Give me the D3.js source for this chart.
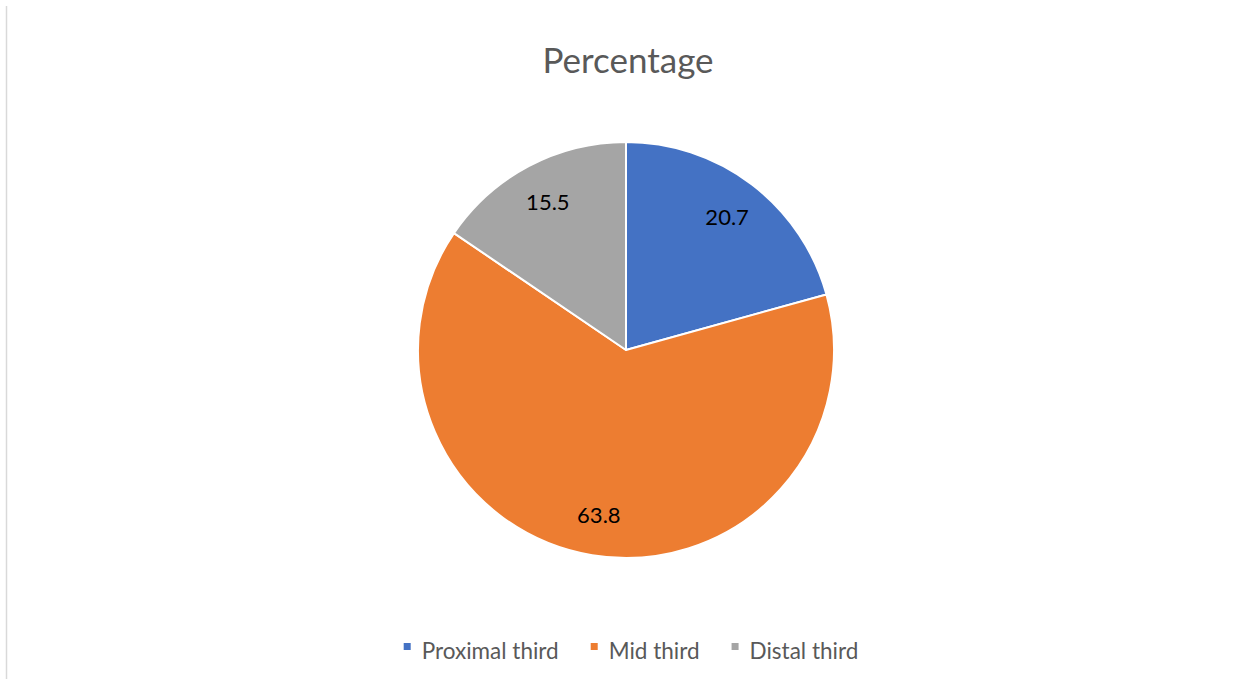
<!DOCTYPE html>
<html><head><meta charset="utf-8">
<script src="https://cdn.jsdelivr.net/npm/d3@7"></script>
<style>body{margin:0;background:#fff}svg{display:block}</style>
</head><body>
<script>
const categories = ["Proximal third", "Mid third", "Distal third"];
const values = [20.7, 63.8, 15.5];
const colors = ["#4472C4", "#ED7D31", "#A5A5A5"];
const title = "Percentage";

const W = 1244, H = 679;
const FONT = "Lato, 'Open Sans', sans-serif";
const svg = d3.select("body").append("svg").attr("width", W).attr("height", H);

svg.append("line").attr("x1", 6.5).attr("x2", 6.5).attr("y1", 6).attr("y2", H)
  .attr("stroke", "#d9d9d9").attr("stroke-width", 1.5);

svg.append("text").attr("x", 628).attr("y", 73).attr("text-anchor", "middle")
  .attr("font-family", FONT).attr("font-size", 35).attr("fill", "#595959").text(title);

const cx = 626, cy = 350, r = 208;
const pie = d3.pie().sort(null).value(d => d);
const arcs = pie(values);
const arc = d3.arc().innerRadius(0).outerRadius(r);
const g = svg.append("g").attr("transform", `translate(${cx},${cy})`);
g.selectAll("path").data(arcs).join("path")
  .attr("d", arc).attr("fill", (d, i) => colors[i])
  .attr("stroke", "#fff").attr("stroke-width", 2).attr("stroke-linejoin", "round");

const labelArc = d3.arc().innerRadius(167).outerRadius(167);
g.selectAll("text.lbl").data(arcs).join("text").attr("class", "lbl")
  .attr("transform", d => { const c = labelArc.centroid(d); return `translate(${c[0]},${c[1]})`; })
  .attr("text-anchor", "middle").attr("dy", "0.36em")
  .attr("font-family", FONT).attr("font-size", 22).attr("fill", "#000")
  .text(d => d.data.toFixed(1));

// legend
const lg = svg.append("g");
const items = lg.selectAll("g").data(categories).join("g");
items.append("rect").attr("width", 7).attr("height", 7).attr("y", -16).attr("fill", (d, i) => colors[i]);
items.append("text").attr("x", 18).attr("font-family", FONT).attr("font-size", 22.5).attr("fill", "#595959").text(d => d);
let x = 0; const gap = 32;
items.each(function () {
  const w = this.getBBox().width;
  d3.select(this).attr("transform", `translate(${x},0)`);
  x += w + gap;
});
const total = x - gap;
lg.attr("transform", `translate(${631 - total / 2},659)`);
</script>
</body></html>
